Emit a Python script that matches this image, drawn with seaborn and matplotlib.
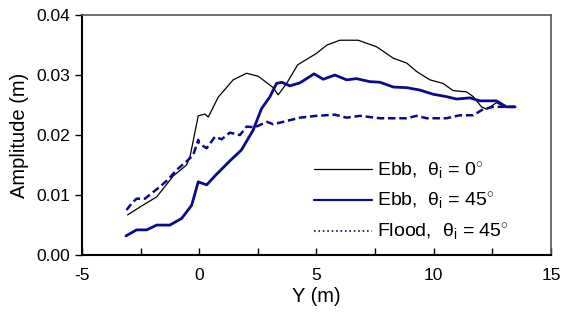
import numpy as np
import pandas as pd
import matplotlib
matplotlib.use("Agg")
import matplotlib.pyplot as plt
from matplotlib.ticker import MultipleLocator, FormatStrFormatter
import seaborn as sns

# Ebb, theta_i = 0
ebb0_y = [-3.05, -2.53, -1.81, -1.1, -0.54, -0.39, -0.04, 0.25, 0.39, 0.81, 1.45, 2.02,
          2.52, 3.16, 3.37, 3.73, 4.2, 5.0, 5.45, 6.0, 6.78, 7.57, 8.28, 8.85, 9.27, 9.84,
          10.4, 10.83, 11.4, 11.69, 12.04, 12.26, 12.68, 12.97, 13.4]
ebb0_a = [0.0067, 0.0080, 0.0097, 0.0132, 0.0150, 0.0164, 0.0232, 0.0235, 0.0230, 0.0263,
          0.0292, 0.0303, 0.0298, 0.0279, 0.0267, 0.0286, 0.0317, 0.0336, 0.0350, 0.0358,
          0.0358, 0.0347, 0.0328, 0.0320, 0.0306, 0.0292, 0.0286, 0.0274, 0.0272, 0.0264,
          0.0247, 0.0243, 0.0254, 0.0248, 0.0246]

# Ebb, theta_i = 45
ebb45_y = [-3.12, -2.67, -2.24, -1.81, -1.25, -0.75, -0.32, -0.04, 0.32, 0.7, 1.31, 1.8,
           2.3, 2.66, 3.02, 3.3, 3.52, 3.87, 4.3, 4.9, 5.29, 5.79, 6.29, 6.71, 7.28, 7.71,
           8.28, 8.85, 9.41, 9.98, 10.55, 10.98, 11.55, 11.97, 12.68, 13.1, 13.47]
ebb45_a = [0.0032, 0.0042, 0.0042, 0.0050, 0.0050, 0.0061, 0.0083, 0.0122, 0.0117, 0.0133,
           0.0157, 0.0175, 0.0208, 0.0244, 0.0264, 0.0286, 0.0288, 0.0282, 0.0287, 0.0302,
           0.0293, 0.0300, 0.0292, 0.0294, 0.0289, 0.0288, 0.0280, 0.0279, 0.0275, 0.0268,
           0.0264, 0.0260, 0.0262, 0.0257, 0.0257, 0.0247, 0.0247]

# Flood, theta_i = 45
flood_y = [-3.1, -2.88, -2.67, -2.31, -2.03, -1.67, -1.32, -0.96, -0.54, -0.25, -0.04,
           0.0, 0.32, 0.67, 0.96, 1.31, 1.74, 2.02, 2.38, 2.88, 3.16, 3.58, 4.3, 5.0, 5.79,
           6.29, 6.86, 7.71, 8.85, 9.27, 9.7, 10.55, 11.12, 11.69, 12.11, 12.54, 13.47]
flood_a = [0.0075, 0.0086, 0.0094, 0.0094, 0.0103, 0.0114, 0.0126, 0.0142, 0.0156, 0.0167,
           0.0192, 0.0186, 0.0178, 0.0197, 0.0193, 0.0204, 0.0200, 0.0214, 0.0213, 0.0222,
           0.0218, 0.0222, 0.0229, 0.0232, 0.0234, 0.0229, 0.0232, 0.0228, 0.0228, 0.0232,
           0.0228, 0.0228, 0.0233, 0.0233, 0.0243, 0.0247, 0.0247]

labels = ["Ebb,  θ$_{\\rm i}$ = 0$^{\\circ}$",
          "Ebb,  θ$_{\\rm i}$ = 45$^{\\circ}$",
          "Flood,  θ$_{\\rm i}$ = 45$^{\\circ}$"]

sns.set_style("ticks", {"text.color": "black", "axes.labelcolor": "black",
                        "xtick.color": "black", "ytick.color": "black"})
plt.rcParams["font.family"] = ["Liberation Sans", "DejaVu Sans"]
plt.rcParams["mathtext.fontset"] = "custom"
plt.rcParams["mathtext.rm"] = "Liberation Sans"
plt.rcParams["mathtext.it"] = "Liberation Sans:italic"
plt.rcParams["axes.unicode_minus"] = False

navy = "#0a0a8c"
fig = plt.figure(figsize=(5.61, 3.13), dpi=100)
ax = fig.add_axes([0.146, 0.185, 0.836, 0.767])

sns.lineplot(x=ebb0_y, y=ebb0_a, ax=ax, color="black", lw=0.9, sort=False,
             estimator=None, label=labels[0])
sns.lineplot(x=ebb45_y, y=ebb45_a, ax=ax, color=navy, lw=2.0, sort=False,
             estimator=None, label=labels[1])
sns.lineplot(x=flood_y, y=flood_a, ax=ax, color=navy, lw=1.8, sort=False,
             estimator=None, label=labels[2], linestyle=(0, (3, 1.5)))

ax.set_xlim(-5, 15)
ax.set_ylim(0, 0.04)
ax.xaxis.set_major_locator(MultipleLocator(5))
ax.xaxis.set_minor_locator(MultipleLocator(2.5))
ax.yaxis.set_major_locator(MultipleLocator(0.01))
ax.yaxis.set_major_formatter(FormatStrFormatter("%.2f"))
ax.tick_params(axis="x", which="both", direction="in", top=False, labelsize=12.5, pad=9,
               length=5, width=1)
ax.tick_params(axis="y", direction="out", length=5, width=1, right=False, labelsize=12.5)
for s in ["left", "bottom"]:
    ax.spines[s].set_linewidth(1.5)
    ax.spines[s].set_color("black")
for s in ["top", "right"]:
    ax.spines[s].set_linewidth(1.2)
    ax.spines[s].set_color("#555555")

ax.set_xlabel("Y (m)", fontsize=14.5, labelpad=3)
ax.set_ylabel("Amplitude (m)", fontsize=14.5, labelpad=5)

leg = ax.legend(loc="lower right", bbox_to_anchor=(0.935, 0.0), frameon=False, fontsize=14,
                handlelength=3.0, handletextpad=0.25, labelspacing=0.5, borderaxespad=0.2)
leg.get_lines()[2].set_linestyle(":")
leg.get_lines()[2].set_linewidth(1.2)
leg.get_lines()[0].set_linewidth(0.9)
leg.get_lines()[1].set_linewidth(1.6)

fig.savefig("out.png", dpi=100)
